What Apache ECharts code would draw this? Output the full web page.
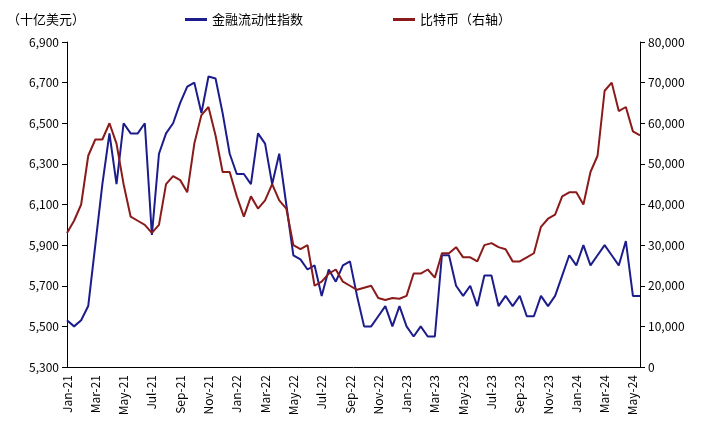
<!DOCTYPE html><html><head><meta charset="utf-8"><script src="https://cdn.jsdelivr.net/npm/echarts@6/dist/echarts.min.js"></script></head><body style="margin:0"><div id="c" style="width:710px;height:438px"></div><script>
const months=['Jan','Feb','Mar','Apr','May','Jun','Jul','Aug','Sep','Oct','Nov','Dec'];
const categories=[];
for(let y=21;y<=24;y++)for(let m=0;m<12;m++){if(y===24&&m>4)break;categories.push(months[m]+'-'+y);categories.push(months[m]+'-'+y+'b');}
const liquidity=[5530,5500,5530,5600,5900,6200,6450,6200,6500,6450,6450,6500,5950,6350,6450,6500,6600,6680,6700,6550,6730,6720,6550,6350,6250,6250,6200,6450,6400,6200,6350,6100,5850,5830,5780,5800,5650,5780,5720,5800,5820,5650,5500,5500,5550,5600,5500,5600,5500,5450,5500,5450,5450,5850,5850,5700,5650,5700,5600,5750,5750,5600,5650,5600,5650,5550,5550,5650,5600,5650,5750,5850,5800,5900,5800,5850,5900,5850,5800,5920,5650,5650];
const bitcoin=[33000,36000,40000,52000,56000,56000,60000,55000,45000,37000,36000,35000,33000,35000,45000,47000,46000,43000,55000,62000,64000,57000,48000,48000,42000,37000,42000,39000,41000,45000,41000,39000,30000,29000,30000,20000,21000,23000,24000,21000,20000,19000,19500,20000,17000,16500,17000,16800,17500,23000,23000,24000,22000,28000,28000,29500,27000,27000,26000,30000,30500,29500,29000,26000,26000,27000,28000,34500,36500,37500,42000,43000,43000,40000,48000,52000,68000,70000,63000,64000,58000,57000];
const ch=echarts.init(document.getElementById('c'));
ch.setOption({
 textStyle:{fontFamily:'Noto Sans CJK SC'},
 grid:{left:67,right:70,top:42,bottom:71},
 title:{text:'（十亿美元）',left:2,top:8,textStyle:{fontSize:13,fontWeight:'normal',color:'#000'}},
 legend:{top:8,left:180,itemGap:90,itemWidth:22,itemHeight:3,textStyle:{fontSize:13,color:'#000'},data:[{name:'金融流动性指数',icon:'rect'},{name:'比特币（右轴）',icon:'rect'}]},
 xAxis:{type:'category',data:categories,boundaryGap:false,axisTick:{show:false},axisLine:{lineStyle:{color:'#000'}},
  axisLabel:{rotate:90,interval:3,color:'#000',fontSize:12,formatter:v=>v.replace('b','')}},
 yAxis:[{type:'value',min:5300,max:6900,interval:200,splitLine:{show:false},axisLine:{show:true,lineStyle:{color:'#000'}},axisTick:{show:true},axisLabel:{color:'#000',fontSize:12,formatter:v=>v.toLocaleString('en-US')}},
  {type:'value',min:0,max:80000,interval:10000,splitLine:{show:false},axisLine:{show:true,lineStyle:{color:'#000'}},axisTick:{show:true},axisLabel:{color:'#000',fontSize:12,formatter:v=>v.toLocaleString('en-US')}}],
 series:[{name:'金融流动性指数',type:'line',data:liquidity,symbol:'none',lineStyle:{width:2,color:'#1c1c8c'},itemStyle:{color:'#1c1c8c'}},
  {name:'比特币（右轴）',type:'line',yAxisIndex:1,data:bitcoin,symbol:'none',lineStyle:{width:2,color:'#8b1a1a'},itemStyle:{color:'#8b1a1a'}}]
});
</script></body></html>
